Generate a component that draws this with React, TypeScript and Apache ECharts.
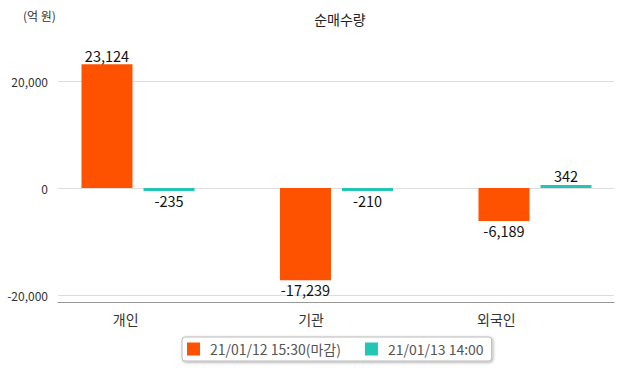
import React, { useEffect, useRef } from "react";
import * as echarts from "echarts";

const categories = ["개인", "기관", "외국인"];
const seriesNames = ["21/01/12 15:30(마감)", "21/01/13 14:00"];
const closeValues = [23124, -17239, -6189];
const liveValues = [-235, -210, 342];
const yTicks = [-20000, 0, 20000];

const FONT = "'Noto Sans CJK KR', 'Noto Sans', sans-serif";

function toData(vals: number[]) {
  return vals.map((v) => ({
    value: v,
    label: { position: v < 0 ? "bottom" : "top" },
  }));
}

export default function App() {
  const ref = useRef<HTMLDivElement>(null);
  useEffect(() => {
    document.body.style.margin = "0";
    document.body.style.overflow = "hidden";
    const chart = echarts.init(ref.current!, null, { renderer: "svg" });
    const yMin = yTicks[0];
    const yMax = yTicks[yTicks.length - 1];
    const labelStyle = {
      show: true,
      color: "#111",
      fontSize: 14.5,
      fontFamily: FONT,
      distance: 2,
      formatter: (p: any) => Number(p.value).toLocaleString("en-US"),
    };
    chart.setOption({
      animation: false,
      textStyle: { fontFamily: FONT },
      title: [
        {
          text: "순매수량",
          left: 335,
          top: 7,
          textAlign: "center",
          textStyle: { fontSize: 14, fontWeight: "normal", color: "#222", fontFamily: FONT },
        },
        {
          text: "(억 원)",
          left: 18,
          top: 4,
          textStyle: { fontSize: 12, fontWeight: "normal", color: "#333", fontFamily: FONT },
        },
      ],
      legend: {
        data: seriesNames,
        left: 182,
        top: 337,
        icon: "rect",
        itemWidth: 13,
        itemHeight: 13,
        itemGap: 24,
        padding: [5, 8, 5, 5],
        borderColor: "#bbb",
        borderWidth: 1,
        borderRadius: 3,
        backgroundColor: "#fff",
        shadowColor: "rgba(0,0,0,0.35)",
        shadowBlur: 3,
        shadowOffsetX: 1,
        shadowOffsetY: 1,
        textStyle: { fontSize: 14, color: "#555", fontFamily: FONT, padding: [0, 0, 0, 5] },
      },
      grid: [
        { left: 58, width: 556, top: 81, height: 214 },
        { left: 38.75, width: 595.5, top: 81, height: 214 },
      ],
      xAxis: [
        {
          type: "category",
          gridIndex: 0,
          data: categories,
          offset: 7,
          axisTick: { show: false },
          axisLine: { show: true, onZero: false, lineStyle: { color: "#999", width: 1 } },
          axisLabel: {
            fontSize: 14,
            color: "#333",
            margin: 10,
            padding: [0, 50, 0, 0],
            fontFamily: FONT,
          },
          splitLine: { show: false },
        },
        {
          type: "category",
          gridIndex: 1,
          data: categories,
          show: false,
        },
      ],
      yAxis: [
        {
          type: "value",
          gridIndex: 0,
          min: yMin,
          max: yMax,
          interval: 20000,
          axisLine: { show: false },
          axisTick: { show: false },
          axisLabel: {
            fontSize: 12,
            color: "#333",
            margin: 10,
            fontFamily: FONT,
            formatter: (v: number) => v.toLocaleString("en-US"),
          },
          splitLine: { show: true, lineStyle: { color: "#ddd", width: 1 } },
        },
        {
          type: "value",
          gridIndex: 1,
          min: yMin,
          max: yMax,
          interval: 20000,
          show: false,
          splitLine: { show: false },
        },
      ],
      series: [
        {
          name: seriesNames[0],
          type: "bar",
          xAxisIndex: 1,
          yAxisIndex: 1,
          data: toData(closeValues),
          barWidth: 51,
          barGap: "21.6%",
          clip: false,
          itemStyle: { color: "#ff5200" },
          label: labelStyle,
        },
        {
          name: seriesNames[1],
          type: "bar",
          xAxisIndex: 1,
          yAxisIndex: 1,
          data: toData(liveValues),
          barWidth: 51,
          barGap: "21.6%",
          barMinHeight: 3,
          clip: false,
          itemStyle: { color: "#22c5b6" },
          label: labelStyle,
        },
      ],
    });
    return () => chart.dispose();
  }, []);
  return (
    <div
      ref={ref}
      style={{ position: "absolute", left: 0, top: 0, width: 660, height: 368, background: "#fff" }}
    />
  );
}
